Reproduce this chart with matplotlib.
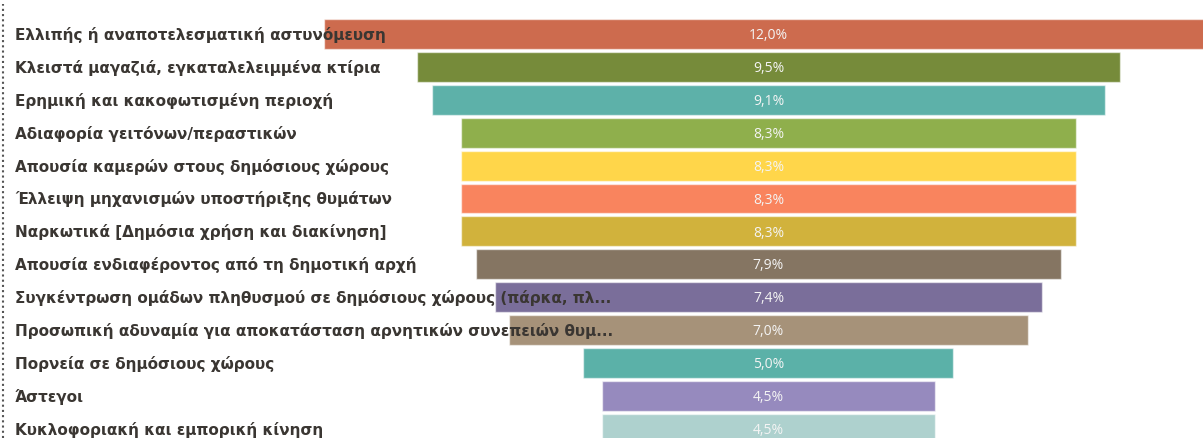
import matplotlib.pyplot as plt
from matplotlib.lines import Line2D

categories = [
    "Ελλιπής ή αναποτελεσματική αστυνόμευση",
    "Κλειστά μαγαζιά, εγκαταλελειμμένα κτίρια",
    "Ερημική και κακοφωτισμένη περιοχή",
    "Αδιαφορία γειτόνων/περαστικών",
    "Απουσία καμερών στους δημόσιους χώρους",
    "Έλλειψη μηχανισμών υποστήριξης θυμάτων",
    "Ναρκωτικά [Δημόσια χρήση και διακίνηση]",
    "Απουσία ενδιαφέροντος από τη δημοτική αρχή",
    "Συγκέντρωση ομάδων πληθυσμού σε δημόσιους χώρους (πάρκα, πλ...",
    "Προσωπική αδυναμία για αποκατάσταση αρνητικών συνεπειών θυμ...",
    "Πορνεία σε δημόσιους χώρους",
    "Άστεγοι",
    "Κυκλοφοριακή και εμπορική κίνηση",
]
values = [12.0, 9.5, 9.1, 8.3, 8.3, 8.3, 8.3, 7.9, 7.4, 7.0, 5.0, 4.5, 4.5]
colors = [
    "#CD6B4E", "#768B3A", "#5DB1A9", "#8FAF4C", "#FFD64A", "#F9845E",
    "#D1B23C", "#857562", "#7A6E9A", "#A69279", "#5BB1A8", "#968ABE",
    "#AED1CE",
]

W, H = 1203, 439
fig = plt.figure(figsize=(W / 100, H / 100), dpi=100)
ax = fig.add_axes([0, 0, 1, 1])

# funnel: every bar is centred on the same vertical axis
px_per_unit = 74.0
center_px = 768.5
ax.set_xlim(-center_px / px_per_unit, (W - center_px) / px_per_unit)
row_px = 32.9
first_px = 35.0
ax.set_ylim((H - first_px) / row_px, -first_px / row_px)
ax.axis("off")

ys = list(range(len(values)))
ax.barh(ys, values, left=[-v / 2 for v in values], height=0.91,
        color=colors, edgecolor=(1, 1, 1, 0.55), linewidth=1.0, zorder=2)

for y, v in zip(ys, values):
    ax.text(0, y + 0.02, f"{v:.1f}%".replace(".", ","), ha="center", va="center",
            color="#f4f4f4", fontsize=10, family="Open Sans", zorder=4)

# category names sit on the left, drawn over the bars
ytrans = ax.get_yaxis_transform()
for y, c in zip(ys, categories):
    ax.text(15 / W, y, c, transform=ytrans, ha="left", va="center",
            fontsize=11, fontweight="bold", family="DejaVu Sans",
            color="#3a3632", zorder=5)

fig.add_artist(Line2D([3 / W, 3 / W], [0, 1 - 5 / H], transform=fig.transFigure,
                      linestyle=(0, (1, 1.5)), color="#555555", linewidth=1.5))

fig.savefig("out.png", dpi=100)
